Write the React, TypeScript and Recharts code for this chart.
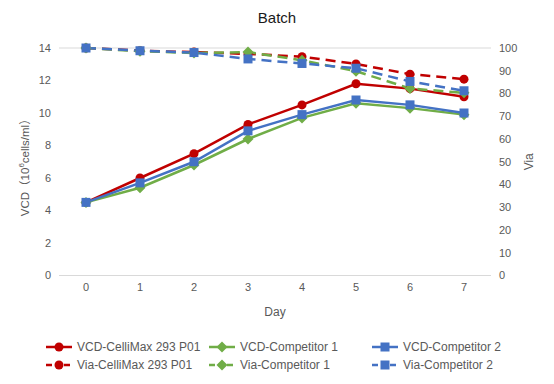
import { LineChart, Line, XAxis, YAxis, CartesianGrid, Legend } from "recharts"

const days = [0, 1, 2, 3, 4, 5, 6, 7]

// viable cell density, 10^6 cells/ml
const vcdCelliMax = [4.5, 6.0, 7.5, 9.3, 10.5, 11.8, 11.5, 11.0]
const vcdComp1 = [4.5, 5.4, 6.8, 8.4, 9.7, 10.6, 10.3, 9.9]
const vcdComp2 = [4.5, 5.7, 7.0, 8.9, 9.9, 10.8, 10.5, 10.0]

// viability, %
const viaCelliMax = [100, 98.8, 98.2, 97.4, 96.2, 93.0, 88.5, 86.3]
const viaComp1 = [100, 98.6, 97.8, 98.2, 94.6, 89.8, 82.2, 80.3]
const viaComp2 = [100, 98.8, 98.0, 95.2, 93.2, 91.1, 85.3, 81.2]

const vcdTicks = [0, 2, 4, 6, 8, 10, 12, 14]
const viaTicks = [0, 10, 20, 30, 40, 50, 60, 70, 80, 90, 100]

const RED = "#C00000"
const GREEN = "#70AD47"
const BLUE = "#4472C4"
const TEXT = "#595959"
const FONT = "'Liberation Sans', Arial, 'Noto Sans CJK SC', sans-serif"

type Shape = "circle" | "diamond" | "square"

const series: { key: string; name: string; color: string; shape: Shape; axis: string; dashed: boolean }[] = [
  { key: "vcdCelliMax", name: "VCD-CelliMax 293 P01", color: RED, shape: "circle", axis: "vcd", dashed: false },
  { key: "vcdComp1", name: "VCD-Competitor 1", color: GREEN, shape: "diamond", axis: "vcd", dashed: false },
  { key: "vcdComp2", name: "VCD-Competitor 2", color: BLUE, shape: "square", axis: "vcd", dashed: false },
  { key: "viaCelliMax", name: "Via-CelliMax 293 P01", color: RED, shape: "circle", axis: "via", dashed: true },
  { key: "viaComp1", name: "Via-Competitor 1", color: GREEN, shape: "diamond", axis: "via", dashed: true },
  { key: "viaComp2", name: "Via-Competitor 2", color: BLUE, shape: "square", axis: "via", dashed: true },
]

const data = days.map((d, i) => ({
  day: String(d),
  vcdCelliMax: vcdCelliMax[i],
  vcdComp1: vcdComp1[i],
  vcdComp2: vcdComp2[i],
  viaCelliMax: viaCelliMax[i],
  viaComp1: viaComp1[i],
  viaComp2: viaComp2[i],
}))

function Marker({ shape, cx, cy, color }: { shape: Shape; cx: number; cy: number; color: string }) {
  if (shape === "circle") return <circle cx={cx} cy={cy} r={4.5} fill={color} />
  if (shape === "diamond") {
    const s = 5.5
    return <polygon points={`${cx},${cy - s} ${cx + s},${cy} ${cx},${cy + s} ${cx - s},${cy}`} fill={color} />
  }
  return <rect x={cx - 4.5} y={cy - 4.5} width={9} height={9} fill={color} />
}

function LegendContent({ payload }: any) {
  const items = (payload || []) as any[]
  return (
    <div style={{ display: "grid", gridTemplateColumns: "163px 163px 163px", paddingLeft: 46, fontFamily: FONT }}>
      {items.map((entry) => {
        const s = series.find((x) => x.key === entry.dataKey)!
        return (
          <div key={s.key} style={{ display: "flex", alignItems: "center", height: 18 }}>
            <svg width={26} height={12} style={{ flex: "none" }}>
              <line x1={0} y1={6} x2={26} y2={6} stroke={s.color} strokeWidth={2.5} strokeDasharray={s.dashed ? "6 3" : undefined} />
              <Marker shape={s.shape} cx={13} cy={6} color={s.color} />
            </svg>
            <span style={{ marginLeft: 5, fontSize: 12, color: TEXT, whiteSpace: "nowrap" }}>{entry.value}</span>
          </div>
        )
      })}
    </div>
  )
}

export default function App() {
  return (
    <div style={{ position: "absolute", left: 0, top: 0, width: 554, height: 384, background: "#fff", fontFamily: FONT }}>
      <div style={{ position: "absolute", top: 9, width: 554, textAlign: "center", fontSize: 15, color: "#1a1a1a" }}>Batch</div>
      <LineChart width={554} height={384} data={data} margin={{ top: 48, right: 0, bottom: 63.5, left: 0 }}>
        <CartesianGrid vertical={false} stroke="#D9D9D9" />
        <XAxis
          dataKey="day"
          height={45}
          padding={{ left: 27, right: 27 }}
          axisLine={false}
          tickLine={false}
          tick={{ fontSize: 11, fill: TEXT, fontFamily: FONT }}
          label={{ value: "Day", position: "insideBottom", offset: 5, fontSize: 12, fill: TEXT, fontFamily: FONT }}
        />
        <YAxis
          yAxisId="vcd"
          width={59}
          domain={[0, 14]}
          ticks={vcdTicks}
          axisLine={false}
          tickLine={false}
          tick={{ fontSize: 11, fill: TEXT, fontFamily: FONT }}
          label={({ viewBox }: any) => {
            const x = viewBox.x + 25
            const y = viewBox.y + viewBox.height / 2 + 3
            return (
              <text x={x} y={y} transform={`rotate(-90 ${x} ${y})`} textAnchor="middle" dominantBaseline="central" fontSize={11.5} fill={TEXT} fontFamily={FONT}>
                VCD（10<tspan dy={-4} fontSize={8}>6</tspan><tspan dy={4}>cells/ml）</tspan>
              </text>
            )
          }}
        />
        <YAxis
          yAxisId="via"
          orientation="right"
          width={63}
          domain={[0, 100]}
          ticks={viaTicks}
          axisLine={false}
          tickLine={false}
          tick={{ fontSize: 11, fill: TEXT, fontFamily: FONT }}
          label={({ viewBox }: any) => {
            const x = viewBox.x + 38
            const y = viewBox.y + viewBox.height / 2
            return (
              <text x={x} y={y} transform={`rotate(-90 ${x} ${y})`} textAnchor="middle" dominantBaseline="central" fontSize={12} fill={TEXT} fontFamily={FONT}>
                Via
              </text>
            )
          }}
        />
        <Legend verticalAlign="middle" wrapperStyle={{ top: 338, left: 0, width: 554 }} content={<LegendContent />} />
        {series.map((s) => (
          <Line
            key={s.key}
            yAxisId={s.axis}
            dataKey={s.key}
            name={s.name}
            type="linear"
            stroke={s.color}
            strokeWidth={2.5}
            strokeDasharray={s.dashed ? "10 6" : undefined}
            dot={(p: any) => <Marker key={`${s.key}-${p.index}`} shape={s.shape} cx={p.cx} cy={p.cy} color={s.color} />}
            activeDot={false}
            isAnimationActive={false}
          />
        ))}
      </LineChart>
    </div>
  )
}
